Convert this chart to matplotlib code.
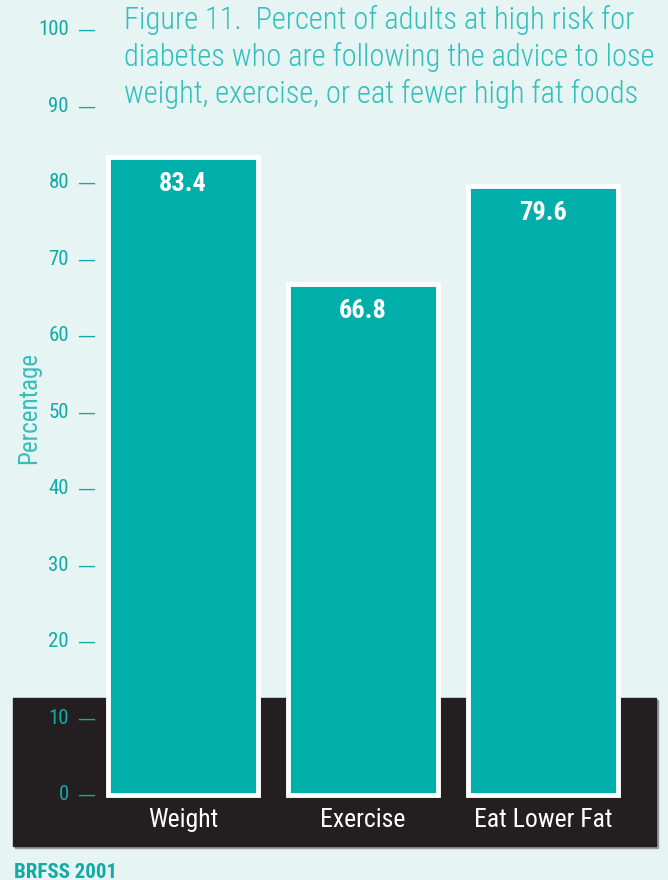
import numpy as np
import matplotlib
matplotlib.use("Agg")
import matplotlib.pyplot as plt
from matplotlib import font_manager
from matplotlib.patches import Rectangle

categorias = ["Weight", "Exercise", "Eat Lower Fat"]
porcentajes = [83.4, 66.8, 79.6]
marcas_y = [0, 10, 20, 30, 40, 50, 60, 70, 80, 90, 100]
titulo = ("Figure 11.  Percent of adults at high risk for\n"
          "diabetes who are following the advice to lose\n"
          "weight, exercise, or eat fewer high fat foods")

fondo = "#e6f4f4"
verde = "#00aeaa"
verde_texto = "#12aaa6"
verde_titulo = "#33bfbb"
oscuro = "#231f20"

# primera familia estrecha que este instalada
disponibles = {f.name for f in font_manager.fontManager.ttflist}
estrechas = ["Roboto Condensed", "Open Sans Condensed", "PT Sans Narrow",
             "Fira Sans Condensed", "Encode Sans Condensed", "Liberation Sans Narrow"]
fuente = next((f for f in estrechas if f in disponibles), "DejaVu Sans")
plt.rcParams["font.family"] = [fuente, "DejaVu Sans"]

W, H = 668, 880
fig = plt.figure(figsize=(W / 100, H / 100), dpi=100, facecolor=fondo)

def px(x0, y0, x1, y1):
    # caja en pixeles (origen arriba-izquierda) -> fracciones de la figura
    return [x0 / W, 1 - y1 / H, (x1 - x0) / W, (y1 - y0) / H]

# banda oscura detras de la base de las barras
fig.add_artist(Rectangle((15 / W, 1 - 848 / H), 643 / W, 148 / H,
                         transform=fig.transFigure, color="#9a9a9a", zorder=0))
fig.add_artist(Rectangle((13 / W, 1 - 846 / H), 643 / W, 148 / H,
                         transform=fig.transFigure, color=oscuro, zorder=0))

ax = fig.add_axes(px(13, 30, 656, 846))
ax.set_facecolor("none")
ax.set_zorder(2)
ax.set_ylim(-6.67, 100)
ax.set_xlim(-0.944, 2.628)

x = np.arange(len(categorias))
ax.bar(x, porcentajes, width=0.83, color=verde, edgecolor="white",
       linewidth=3.5, zorder=3)

for xi, v in zip(x, porcentajes):
    ax.text(xi, v - 3.5, f"{v:.1f}", ha="center", va="center", color="white",
            fontsize=19, fontweight="bold", zorder=4)

for xi, c in zip(x, categorias):
    ax.text(xi, -3.3, c, ha="center", va="center", color="white",
            fontsize=18.5, zorder=4)

# marcas del eje y: numero + guion largo
for m in marcas_y:
    ax.text(-0.633, m, f"{m}", ha="right", va="center", color=verde_texto,
            fontsize=15, zorder=4)
    ax.text(-0.49, m, "\u2014", ha="right", va="center", color=verde_texto,
            fontsize=13, family="DejaVu Sans", zorder=4)

ax.set_xticks([])
ax.set_yticks([])
for s in ax.spines.values():
    s.set_visible(False)

fig.text(29 / W, 1 - 408 / H, "Percentage", rotation=90, ha="center",
         va="center", color=verde_titulo, fontsize=18)

fig.text(124 / W, 1 - 5 / H, titulo, ha="left", va="top", color=verde_titulo,
         fontsize=22, fontweight="light", linespacing=1.3)

fig.text(14 / W, 1 - 863 / H, "BRFSS 2001", ha="left", va="top",
         color=verde_texto, fontsize=15, fontweight="bold")

fig.savefig("out.png", dpi=100, facecolor=fondo)
